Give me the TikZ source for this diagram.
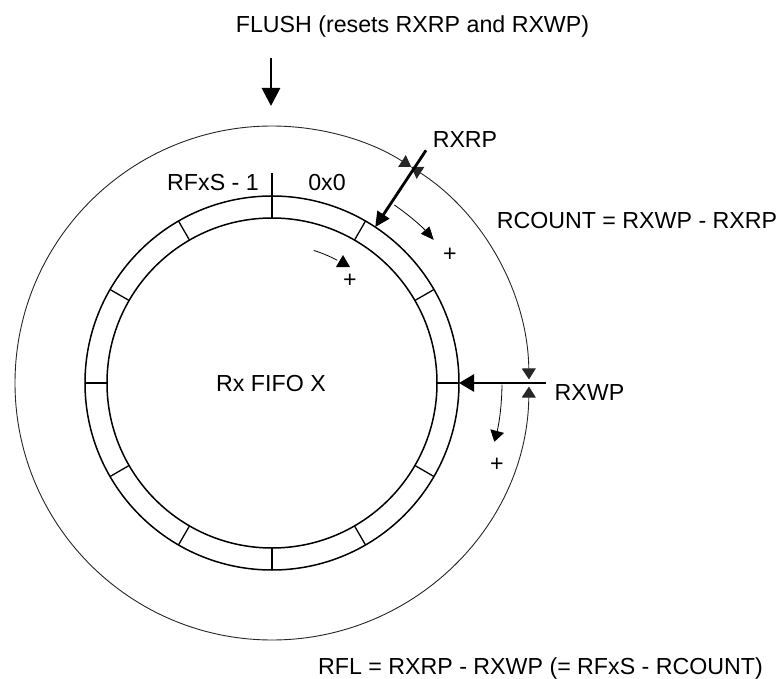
\documentclass[tikz,border=0pt]{standalone}
\usepackage{fontspec}
\setmainfont{Liberation Sans}
\usetikzlibrary{arrows.meta}
\begin{document}
\begin{tikzpicture}[x=1pt,y=1pt,
  lbl/.style={font=\fontsize{23.2}{28}\selectfont, inner sep=0pt, anchor=base},
  plus/.style={font=\fontsize{23.2}{28}\selectfont, inner sep=0pt, anchor=center},
  ring/.style={line width=1.5pt},
  tickline/.style={line width=1.3pt},
  tickthick/.style={line width=2pt},
  outer/.style={line width=0.9pt, black!85},
  ptr/.style={line width=2.8pt},
  small/.style={line width=0.8pt},
  outtip/.style={{Triangle[length=11pt,width=14pt]}-{Triangle[length=11pt,width=14pt]}},
]
\useasboundingbox (-272,-295) rectangle (507,383);

% ring
\draw[ring] (0,0) circle[radius=187];
\draw[ring] (0,0) circle[radius=165];
\foreach \a in {30,60,120,150,210,240,270,300,330}
  \draw[tickline] (\a:165) -- (\a:187);
\draw[tickthick] (0:165) -- (0:187);
\draw[tickthick] (180:165) -- (180:187);
\draw[tickline] (90:165) -- (90:210);

% outer circle as two dimension arcs
\draw[outer, outtip] (57.2:257) arc[start angle=57.2, end angle=0.8, radius=257];
\draw[outer, outtip] (-0.8:257) arc[start angle=-0.8, end angle=-302.8, radius=257];

% labels
\node[lbl] (flush) at (140.5,350) {FLUSH (resets RXRP and RXWP)};
\node[lbl] (rxrp) at (193,236) {RXRP};
\node[lbl] (last) at (-59,193) {RFxS - 1};
\node[lbl] (first) at (55,193) {0x0};
\node[lbl] (rcount) at (365,155) {RCOUNT = RXWP - RXRP};
\node[lbl] (fifo) at (-1,-8) {Rx FIFO X};
\node[lbl] (rxwp) at (317.5,-17) {RXWP};
\node[lbl] (rfl) at (268.5,-291) {RFL = RXRP - RXWP (= RFxS - RCOUNT)};
\node[plus] (p1) at (178,128) {+};
\node[plus] (p2) at (78,102) {+};
\node[plus] (p3) at (225,-82) {+};

% pointers
\coordinate (fl1) at (-1,325);
\coordinate (fl2) at (-1,277);
\draw[ptr, -{Triangle[length=18pt,width=18pt]}] (fl1) -- (fl2);
\coordinate (rp1) at (56.5:279);
\coordinate (rp2) at (56.5:187);
\draw[ptr, -{Triangle[length=15pt,width=14pt]}] (rp1) -- (rp2);
\coordinate (wp1) at (274,0);
\coordinate (wp2) at (187,0);
\draw[ptr, -{Triangle[length=15pt,width=17pt]}] (wp1) -- (wp2);

% increment arrows
\draw[small, -{Triangle[length=13pt,width=11pt]}] (55.5:216) arc[start angle=55.5, end angle=41.5, radius=216];
\draw[small] (72.5:139) arc[start angle=72.5, end angle=62, radius=139];
\fill (64,116) -- (78,116) -- (71,128) -- cycle;
\draw[small, -{Triangle[length=11pt,width=14pt]}] (-0.4:230) arc[start angle=-0.4, end angle=-14.8, radius=230];
\end{tikzpicture}
\end{document}
